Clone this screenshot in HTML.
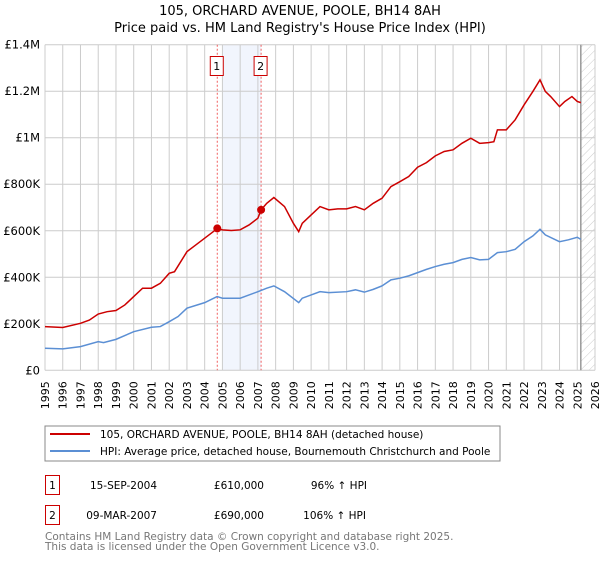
<!DOCTYPE html>
<html><head><meta charset="utf-8"><style>
body{margin:0;background:#fff;}
svg text{font-family:"DejaVu Sans","Liberation Sans",sans-serif;}
</style></head><body>
<svg id="c" width="600" height="560" viewBox="0 0 600 560" xmlns="http://www.w3.org/2000/svg">
<defs><pattern id="hatch" width="6" height="6" patternUnits="userSpaceOnUse" patternTransform="rotate(45)"><line x1="0" y1="0" x2="0" y2="6" stroke="#ccc" stroke-width="1"/></pattern></defs>
<text x="300" y="15" text-anchor="middle" font-size="13" fill="#000">105, ORCHARD AVENUE, POOLE, BH14 8AH</text>
<text x="300" y="32" text-anchor="middle" font-size="13" fill="#000">Price paid vs. HM Land Registry's House Price Index (HPI)</text>
<g id="grid"></g><g id="marks"></g>
<rect x="45" y="426" width="455" height="35" fill="#fff" stroke="#888"/>
<line x1="50" y1="434" x2="90" y2="434" stroke="#cc0000" stroke-width="2"/>
<text x="100" y="438" font-size="10.5">105, ORCHARD AVENUE, POOLE, BH14 8AH (detached house)</text>
<line x1="50" y1="451" x2="90" y2="451" stroke="#5b8fd4" stroke-width="2"/>
<text x="100" y="455" font-size="10.5">HPI: Average price, detached house, Bournemouth Christchurch and Poole</text>
<g>
<rect x="45.5" y="475.5" width="14" height="19" fill="none" stroke="#cc0000"/><text x="52.5" y="489" text-anchor="middle" font-size="10.5">1</text>
<text x="157" y="489" text-anchor="end" font-size="10.5">15-SEP-2004</text>
<text x="264" y="489" text-anchor="end" font-size="10.5">£610,000</text>
<text x="367" y="489" text-anchor="end" font-size="10.5">96% ↑ HPI</text></g>
<g>
<rect x="45.5" y="505.5" width="14" height="19" fill="none" stroke="#cc0000"/><text x="52.5" y="519" text-anchor="middle" font-size="10.5">2</text>
<text x="157" y="519" text-anchor="end" font-size="10.5">09-MAR-2007</text>
<text x="264" y="519" text-anchor="end" font-size="10.5">£690,000</text>
<text x="366" y="519" text-anchor="end" font-size="10.5">106% ↑ HPI</text></g>
<text x="45" y="540" font-size="10.5" fill="#777">Contains HM Land Registry data © Crown copyright and database right 2025.</text>
<text x="45" y="550" font-size="10.5" fill="#777">This data is licensed under the Open Government Licence v3.0.</text>
</svg>
<script>
const redYears=[1995,1996,1997,1997.5,1998,1998.5,1999,1999.5,2000,2000.5,2001,2001.5,2002,2002.3,2003,2003.5,2004,2004.5,2004.71,2005,2005.5,2006,2006.5,2007,2007.18,2007.5,2007.9,2008.5,2009,2009.3,2009.5,2010,2010.5,2011,2011.5,2012,2012.5,2013,2013.5,2014,2014.5,2015,2015.5,2016,2016.5,2017,2017.5,2018,2018.5,2019,2019.5,2020,2020.3,2020.5,2021,2021.5,2022,2022.5,2022.9,2023.2,2023.5,2024,2024.3,2024.7,2025,2025.2];
const redValues=[188,184,202,216,242,252,257,281,317,353,353,374,417,424,510,539,568,597,610,604,601,604,625,654,690,718,743,704,632,596,632,668,704,690,694,694,704,690,718,740,790,811,833,873,893,922,941,948,976,998,976,979,983,1034,1034,1077,1141,1199,1249,1199,1177,1134,1156,1177,1156,1151];
const hpiYears=[1995,1996,1997,1998,1998.3,1999,2000,2001,2001.5,2002,2002.5,2003,2004,2004.7,2005,2006,2007,2007.5,2007.9,2008.5,2009.3,2009.5,2010,2010.5,2011,2012,2012.5,2013,2013.5,2014,2014.5,2015,2015.5,2016,2016.5,2017,2017.5,2018,2018.5,2019,2019.5,2020,2020.5,2021,2021.5,2022,2022.5,2022.9,2023.2,2024,2024.5,2025,2025.2];
const hpiValues=[95,92,102,123,119,133,166,185,188,209,231,267,291,317,310,310,338,353,363,338,291,310,324,338,334,338,346,336,348,363,389,396,406,420,434,446,456,463,477,485,475,477,506,510,520,553,578,606,582,553,561,572,563];
const saleYears=[2004.71,2007.18];
const saleValues=[610,690];
const yTicks=[0,200,400,600,800,1000,1200,1400];
const yTickLabels=["£0","£200K","£400K","£600K","£800K","£1M","£1.2M","£1.4M"];
const xTicks=[1995,1996,1997,1998,1999,2000,2001,2002,2003,2004,2005,2006,2007,2008,2009,2010,2011,2012,2013,2014,2015,2016,2017,2018,2019,2020,2021,2022,2023,2024,2025,2026];
const NS="http://www.w3.org/2000/svg";
const L=45,R=595,T=44.7,B=370.3;
const x=y=>L+(y-1995)/(2026-1995)*(R-L);
const yv=v=>B-v/1400*(B-T);
function mk(tag,at,parent){const e=document.createElementNS(NS,tag);for(const k in at)e.setAttribute(k,at[k]);parent.appendChild(e);return e;}
const g=document.getElementById('grid'),m=document.getElementById('marks');
let e=mk('rect',{x:x(2005),y:T,width:x(2007.18)-x(2005),height:B-T,fill:'#eef3fc',opacity:0.8},g);


e=mk('rect',{x:x(2025.2),y:T,width:R-x(2025.2),height:B-T,fill:'url(#hatch)'},g);


xTicks.forEach(t=>{
 const l=mk('line',{x1:x(t),x2:x(t),y1:T,y2:B,stroke:'#ccc'},g);
 
 
 const tx=mk('text',{x:0,y:0,'font-size':11,'text-anchor':'end',transform:`translate(${x(t)+4},${B+11}) rotate(-90)`},g);
 tx.textContent=t;
 
 
});
yTicks.forEach((t,i)=>{
 const l=mk('line',{x1:L,x2:R,y1:yv(t),y2:yv(t),stroke:'#ccc'},g);
 
 
 const tx=mk('text',{x:L-5,y:yv(t)+4,'font-size':11.5,'text-anchor':'end'},g);
 tx.textContent=yTickLabels[i];
 
 
});
e=mk('line',{x1:x(2025.2),x2:x(2025.2),y1:T,y2:B,stroke:'#999','stroke-width':1.5},g);


saleYears.forEach((s,i)=>{
 const l=mk('line',{x1:x(s),x2:x(s),y1:T,y2:B,stroke:'#f06060','stroke-dasharray':'2,2'},m);
 
 
 const bx=mk('rect',{x:x(s)-7,y:56.5,width:13,height:19,fill:'#fff',stroke:'#cc0000'},m);
 
 
 const tx=mk('text',{x:x(s)-0.5,y:70,'font-size':11,'text-anchor':'middle'},m);
 tx.textContent=String(i+1);
 
 
});
let p=mk('polyline',{points:hpiYears.map((t,i)=>x(t)+','+yv(hpiValues[i])).join(' '),fill:'none',stroke:'#5b8fd4','stroke-width':1.5},m);


p=mk('polyline',{points:redYears.map((t,i)=>x(t)+','+yv(redValues[i])).join(' '),fill:'none',stroke:'#cc0000','stroke-width':1.5},m);


saleYears.forEach((s,i)=>{
 const c=mk('circle',{cx:x(s),cy:yv(saleValues[i]),r:4,fill:'#cc0000'},m);
 
 
});
</script>
</body></html>
